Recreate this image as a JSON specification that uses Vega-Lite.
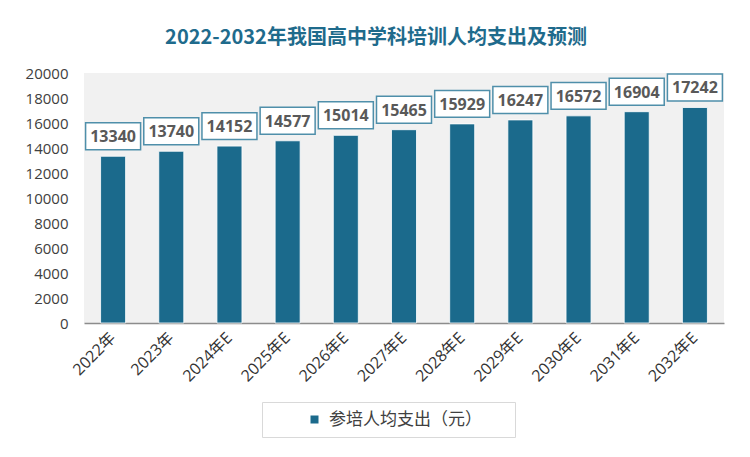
{
  "$schema": "https://vega.github.io/schema/vega-lite/v6.json",
  "width": 640,
  "height": 250,
  "autosize": "none",
  "padding": {"left": 84, "top": 73, "right": 26, "bottom": 134},
  "background": "white",
  "title": {
    "text": "2022-2032年我国高中学科培训人均支出及预测",
    "font": "Noto Sans CJK SC",
    "fontSize": 20,
    "fontWeight": "bold",
    "color": "#1f6b8c",
    "anchor": "middle",
    "dx": -28,
    "offset": 18
  },
  "config": {
    "view": {"stroke": null, "fill": "#f1f1f1"},
    "legend": {
      "orient": "none",
      "legendX": 178,
      "legendY": 329,
      "strokeColor": "#d9d9d9",
      "fillColor": "white",
      "padding": 9,
      "symbolType": "square",
      "symbolSize": 64,
      "symbolOffset": 35,
      "symbolStrokeWidth": 0,
      "labelFontSize": 17,
      "labelOffset": 6,
      "labelLimit": 400,
      "labelFont": "Noto Sans CJK SC",
      "labelColor": "#404040"
    }
  },
  "data": {
    "values": [
      {"year": "2022年", "value": 13340},
      {"year": "2023年", "value": 13740},
      {"year": "2024年E", "value": 14152},
      {"year": "2025年E", "value": 14577},
      {"year": "2026年E", "value": 15014},
      {"year": "2027年E", "value": 15465},
      {"year": "2028年E", "value": 15929},
      {"year": "2029年E", "value": 16247},
      {"year": "2030年E", "value": 16572},
      {"year": "2031年E", "value": 16904},
      {"year": "2032年E", "value": 17242}
    ]
  },
  "encoding": {
    "x": {
      "field": "year",
      "type": "nominal",
      "sort": null,
      "title": null,
      "scale": {"paddingInner": 0.57, "paddingOuter": 0.285},
      "axis": {
        "labelAngle": -45,
        "labelAlign": "right",
        "labelBaseline": "middle",
        "labelFont": "Open Sans, Noto Sans CJK SC",
        "labelFontSize": 16,
        "labelColor": "#333333",
        "labelPadding": 12,
        "ticks": false,
        "domain": true,
        "domainColor": "#8c8c8c",
        "domainWidth": 1.5,
        "grid": false
      }
    },
    "y": {
      "field": "value",
      "type": "quantitative",
      "title": null,
      "scale": {"domain": [0, 20000], "nice": false},
      "axis": {
        "values": [0, 2000, 4000, 6000, 8000, 10000, 12000, 14000, 16000, 18000, 20000],
        "format": "d",
        "labelFont": "Open Sans",
        "labelFontSize": 15,
        "labelColor": "#404040",
        "labelPadding": 16,
        "ticks": false,
        "domain": false,
        "grid": false
      }
    }
  },
  "layer": [
    {
      "mark": {"type": "bar", "stroke": "#ffffff", "strokeWidth": 1, "strokeOpacity": 0.8},
      "encoding": {
        "color": {
          "datum": "参培人均支出（元）",
          "type": "nominal",
          "scale": {"range": ["#1b6a8c"]},
          "legend": {"title": null, "labelExpr": "datum.label + '\u2800\u2800'"}
        }
      }
    },
    {
      "mark": {
        "type": "point",
        "shape": "M-1,-0.49L1,-0.49L1,0.49L-1,0.49Z",
        "size": 3025,
        "filled": true,
        "fill": "white",
        "fillOpacity": 1,
        "opacity": 1,
        "stroke": "#4f8faa",
        "strokeWidth": 1.5,
        "yOffset": -20
      }
    },
    {
      "mark": {
        "type": "text",
        "font": "Open Sans",
        "fontSize": 16,
        "fontWeight": "bold",
        "color": "#595959",
        "baseline": "middle",
        "yOffset": -19
      },
      "encoding": {"text": {"field": "value", "type": "quantitative", "format": "d"}}
    }
  ]
}
